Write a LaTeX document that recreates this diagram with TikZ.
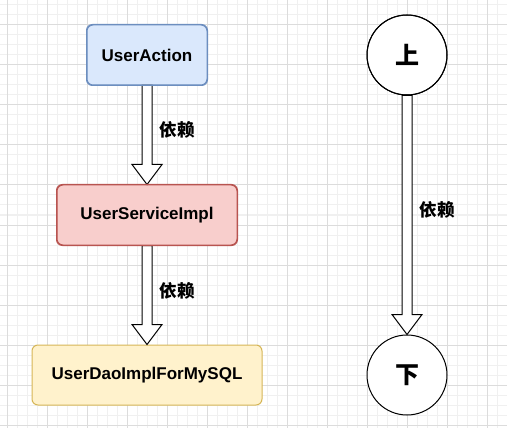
\documentclass[tikz,border=0pt]{standalone}
\usepackage{fontspec}
\setmainfont{Liberation Sans}
\newfontfamily\cjk{Noto Sans CJK SC}
\usetikzlibrary{calc}
\definecolor{gridmajor}{HTML}{DCDCDC}
\definecolor{gridminor}{HTML}{F0F0F0}
\definecolor{bluefill}{HTML}{DAE8FC}
\definecolor{bluedraw}{HTML}{6C8EBF}
\definecolor{redfill}{HTML}{F8CECC}
\definecolor{reddraw}{HTML}{B85450}
\definecolor{yellowfill}{HTML}{FFF2CC}
\definecolor{yellowdraw}{HTML}{D6B656}
\tikzset{
  box/.style={rectangle, rounded corners=6pt, line width=1pt, minimum height=60pt,
    inner sep=0pt, font=\fontsize{17}{19}\selectfont\bfseries},
  roundnode/.style={circle, draw=black, line width=1pt, fill=white, minimum size=80pt,
    inner sep=0pt, font=\fontsize{24}{26}\selectfont\cjk\bfseries},
  deplabel/.style={inner sep=0pt, font=\fontsize{17.5}{19}\selectfont\cjk\bfseries},
  flex/.style={draw=black, line width=1pt, fill=white, line join=miter}
}
\newcommand{\flexarrow}[2]{%
  \draw[flex] ($(#1.south)+(-5,0)$) -- ($(#2.north)+(-5,-20)$) -- ($(#2.north)+(-15,-20)$)
    -- (#2.north) -- ($(#2.north)+(15,-20)$) -- ($(#2.north)+(5,-20)$)
    -- ($(#1.south)+(5,0)$) -- cycle;}
\begin{document}
\begin{tikzpicture}[x=1pt, y=-1pt]
\useasboundingbox (0,0) rectangle (507,428);
\fill[white] (0,0) rectangle (507,428);
% grid
\foreach \x in {7,17,...,507} \draw[gridminor, line width=1pt] (\x,0) -- (\x,428);
\foreach \y in {5,15,...,428} \draw[gridminor, line width=1pt] (0,\y) -- (507,\y);
\foreach \x in {7,47,...,507} \draw[gridmajor, line width=1pt] (\x,0) -- (\x,428);
\foreach \y in {25,65,...,428} \draw[gridmajor, line width=1pt] (0,\y) -- (507,\y);
% nodes
\node[box, fill=bluefill, draw=bluedraw, minimum width=120pt] (ua) at (147,55) {UserAction};
\node[box, fill=redfill, draw=reddraw, minimum width=180pt] (us) at (147,215) {UserServiceImpl};
\node[box, fill=yellowfill, draw=yellowdraw, minimum width=230pt] (ud) at (147,375) {UserDaoImplForMySQL};
\node[roundnode] (up) at (407,55) {上};
\node[roundnode] (down) at (407,375) {下};
% arrows
\flexarrow{ua}{us}
\flexarrow{us}{ud}
\flexarrow{up}{down}
% redraw borders over arrow starts
\draw[bluedraw, line width=1pt, rounded corners=6pt] (ua.south west) rectangle (ua.north east);
\draw[reddraw, line width=1pt, rounded corners=6pt] (us.south west) rectangle (us.north east);
\draw[black, line width=1pt] (up) circle (40);
% labels
\node[deplabel] (l1) at (177,130) {依赖};
\node[deplabel] (l2) at (177,291) {依赖};
\node[deplabel] (l3) at (437,210) {依赖};
\end{tikzpicture}
\end{document}
